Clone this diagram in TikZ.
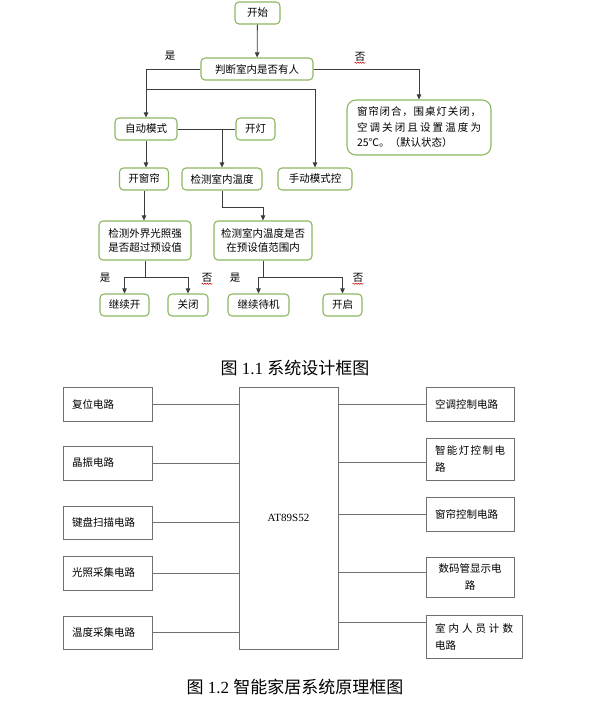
\documentclass[tikz,border=0pt]{standalone}
\usepackage{fontspec}
\setmainfont{Liberation Serif}
\newfontfamily\cjk{Noto Sans CJK SC}
\usetikzlibrary{arrows.meta,decorations.pathmorphing}
\definecolor{fgreen}{RGB}{141,184,98}
\definecolor{bgray}{RGB}{112,112,112}
\definecolor{cline}{RGB}{60,60,60}
\begin{document}
\begin{tikzpicture}[x=1pt,y=-1pt,
  fbox/.style={draw=fgreen,line width=1.1pt,rounded corners=4pt,fill=white,inner sep=0pt,align=center,font=\cjk\fontsize{10.5}{14}\selectfont},
  conn/.style={draw=cline,line width=0.8pt},
  arr/.style={conn,-{Triangle[length=5pt,width=4.5pt]}},
  lab/.style={font=\cjk\fontsize{10.5}{12}\selectfont,inner sep=0pt},
  bbox/.style={draw=bgray,line width=0.9pt,inner sep=0pt,font=\cjk\fontsize{10.5}{17}\selectfont},
  bline/.style={draw=bgray,line width=0.9pt},
  wavy/.style={draw=red!80!black,line width=0.5pt,decorate,decoration={snake,amplitude=0.6pt,segment length=2.5pt}},
  captext/.style={font=\fontsize{17}{19}\selectfont,inner sep=0pt}
]
\useasboundingbox[fill=white] (0,0) rectangle (591,708);

% ---------- flowchart ----------
\node[fbox,minimum width=45pt,minimum height=22pt] (start) at (257.5,13) {开始};
\node[fbox,minimum width=112pt,minimum height=22pt] (judge) at (257,69) {判断室内是否有人};
\node[fbox,rounded corners=9pt,minimum width=144pt,minimum height=55pt,text width=124pt,align=left,font=\cjk\fontsize{10.5}{15.5}\selectfont] (default) at (419,127.5) {\makebox[124pt]{窗\hfill 帘\hfill 闭\hfill 合\hfill ，\hfill 围\hfill 桌\hfill 灯\hfill 关\hfill 闭\hfill ，}\\\makebox[124pt]{空\hfill 调\hfill 关\hfill 闭\hfill 且\hfill 设\hfill 置\hfill 温\hfill 度\hfill 为}\\25℃。（默认状态）};
\node[fbox,minimum width=62pt,minimum height=22pt] (auto) at (146,129) {自动模式};
\node[fbox,minimum width=39pt,minimum height=22pt] (light) at (255.5,129) {开灯};
\node[fbox,minimum width=49pt,minimum height=22pt] (curtain) at (144,179) {开窗帘};
\node[fbox,minimum width=80pt,minimum height=22pt] (detT) at (222,179) {检测室内温度};
\node[fbox,minimum width=74pt,minimum height=22pt] (manual) at (315,179) {手动模式控};
\node[fbox,minimum width=92pt,minimum height=39pt] (chkL) at (145,240.5) {检测外界光照强\\是否超过预设值};
\node[fbox,minimum width=98pt,minimum height=39pt] (chkT) at (263,240.5) {检测室内温度是否\\在预设值范围内};
\node[fbox,minimum width=49pt,minimum height=22pt] (goon) at (124.5,305) {继续开};
\node[fbox,minimum width=40pt,minimum height=22pt] (close) at (188,305) {关闭};
\node[fbox,minimum width=61pt,minimum height=22pt] (standby) at (258.5,305) {继续待机};
\node[fbox,minimum width=39pt,minimum height=22pt] (open) at (342.5,305) {开启};

\node[lab] (y1) at (170,56) {是};
\node[lab] (n1) at (360,57) {否};
\node[lab] (y2) at (105,278) {是};
\node[lab] (n2) at (207,278) {否};
\node[lab] (y3) at (235,278) {是};
\node[lab] (n3) at (358,278) {否};
\foreach \n in {n1,n2,n3}{\draw[wavy] ([yshift=-1pt]\n.south west) -- ([yshift=-1pt]\n.south east);}

\draw[arr] (start) -- (judge);
\draw[arr] (judge.west) -| (auto.north);
\draw[arr] (judge.east) -| (default.north);
\coordinate (split1) at (146,89);
\draw[arr] (split1) -| (manual.north);
\draw[conn] (auto.east) -- (light.west);
\coordinate (split2) at (222,129);
\draw[arr] (split2) -- (detT.north);
\draw[arr] (auto.south) -- (auto.south |- curtain.north);
\draw[arr] (curtain.south) -- (curtain.south |- chkL.north);
\draw[arr] (detT.south) -- ++(0,17) -| (chkT.north);
\draw[conn] (chkL.south) -- ++(0,17) coordinate (b1);
\draw[arr] (b1) -| (goon.north);
\draw[arr] (b1) -| (close.north);
\draw[conn] (chkT.south) -- ++(0,17) coordinate (b2);
\draw[arr] (b2) -| (standby.north);
\draw[arr] (b2) -| (open.north);

\node[captext] (cap1) at (295,368) {{\cjk 图} 1.1 {\cjk 系统设计框图}};

% ---------- block diagram ----------
\node[bbox,minimum width=99pt,minimum height=262pt,font=\fontsize{11}{13}\selectfont] (mcu) at (288.5,518) {AT89S52};

\node[bbox,minimum width=89pt,minimum height=34pt,text width=71pt,align=left] (reset) at (107.5,404) {复位电路};
\node[bbox,minimum width=89pt,minimum height=34pt,text width=71pt,align=left] (osc) at (107.5,463) {晶振电路};
\node[bbox,minimum width=89pt,minimum height=33pt,text width=71pt,align=left] (key) at (107.5,522.5) {键盘扫描电路};
\node[bbox,minimum width=89pt,minimum height=34pt,text width=71pt,align=left] (lightc) at (107.5,573) {光照采集电路};
\node[bbox,minimum width=89pt,minimum height=33pt,text width=71pt,align=left] (temp) at (107.5,632.5) {温度采集电路};

\node[bbox,minimum width=88pt,minimum height=34pt,text width=70pt,align=left] (ac) at (470,404) {空调控制电路};
\node[bbox,minimum width=88pt,minimum height=42pt,text width=70pt,align=left] (lamp) at (470,459) {\makebox[70pt]{智\hfill 能\hfill 灯\hfill 控\hfill 制\hfill 电}\\路};
\node[bbox,minimum width=88pt,minimum height=34pt,text width=70pt,align=left] (cctl) at (470,514) {窗帘控制电路};
\node[bbox,minimum width=88pt,minimum height=40pt,text width=70pt,align=center] (disp) at (470,577) {数码管显示电\\路};
\node[bbox,minimum width=96pt,minimum height=43pt,text width=78pt,align=left] (count) at (474,636.5) {\makebox[78pt]{室\hfill 内\hfill 人\hfill 员\hfill 计\hfill 数}\\电路};

\foreach \b in {reset,osc,key,lightc,temp}{\draw[bline] (\b.east) -- (\b.east -| mcu.west);}
\coordinate (lampin) at ([yshift=-25pt]lamp.north west);
\coordinate (dispin) at ([yshift=-16pt]disp.north west);
\coordinate (countin) at ([yshift=-8pt]count.north west);
\draw[bline] (ac.west) -- (ac.west -| mcu.east);
\draw[bline] (lampin) -- (lampin -| mcu.east);
\draw[bline] (cctl.west) -- (cctl.west -| mcu.east);
\draw[bline] (dispin) -- (dispin -| mcu.east);
\draw[bline] (countin) -- (countin -| mcu.east);

\node[captext] (cap2) at (295,687) {{\cjk 图} 1.2 {\cjk 智能家居系统原理框图}};
\end{tikzpicture}
\end{document}
